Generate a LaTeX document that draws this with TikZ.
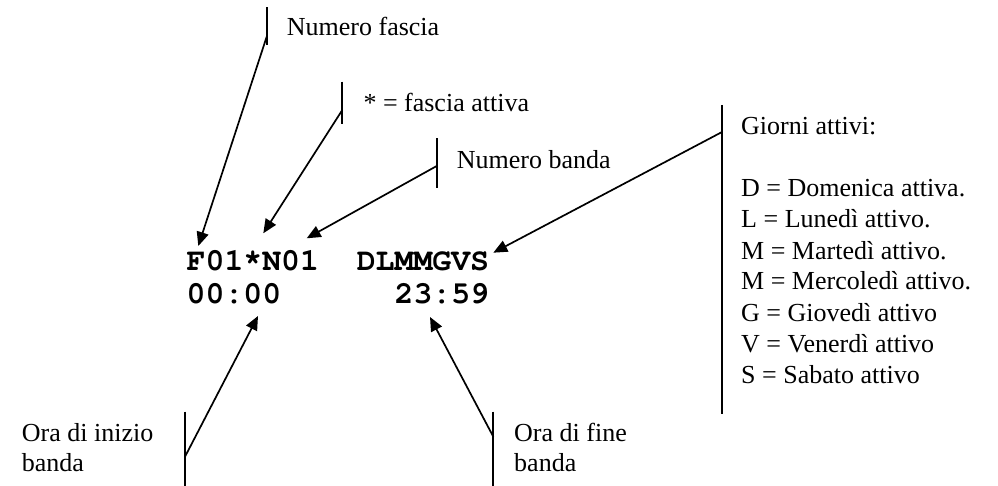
\documentclass[tikz,border=0pt]{standalone}
\usepackage{fontspec}
\setmainfont{Liberation Serif}
\newfontfamily\codefont{TeX Gyre Cursor}
\usetikzlibrary{arrows.meta}
\begin{document}
\begin{tikzpicture}[x=1pt,y=-1pt,
  lbl/.style={anchor=base west, inner sep=0pt, font=\fontsize{26}{31}\selectfont},
  code/.style={anchor=base west, inner sep=0pt, font=\codefont\bfseries\fontsize{31.5}{35}\selectfont},
  bar/.style={line width=1.7pt},
  ptr/.style={line width=1.7pt, -{Triangle[length=14pt,width=12pt]}}]
\useasboundingbox (0,0) rectangle (998,486);

% code text
\node[code] (c1) at (186.5,270) {F01*N01};
\node[code] (c2) at (356.6,270) {DLMMGVS};
\node[code] (c3) at (186.5,303) {00:00};
\node[code] (c4) at (394.4,303) {23:59};

% labels
\node[lbl] (nf) at (286.7,36) {Numero fascia};
\node[lbl] (fa) at (363.3,111.7) {* = fascia attiva};
\node[lbl] (nb) at (456.7,168.3) {Numero banda};
\node[lbl] (g0) at (741,135) {Giorni attivi:};
\node[lbl] (g1) at (741,197) {D = Domenica attiva.};
\node[lbl] (g2) at (741,228) {L = Lunedì attivo.};
\node[lbl] (g3) at (741,259) {M = Martedì attivo.};
\node[lbl] (g4) at (741,290) {M = Mercoledì attivo.};
\node[lbl] (g5) at (741,321) {G = Giovedì attivo};
\node[lbl] (g6) at (741,352) {V = Venerdì attivo};
\node[lbl] (g7) at (741,383) {S = Sabato attivo};
\node[lbl] (oi1) at (21.7,441.7) {Ora di inizio};
\node[lbl] (oi2) at (21.7,471.7) {banda};
\node[lbl] (of1) at (514,441.7) {Ora di fine};
\node[lbl] (of2) at (514,471.7) {banda};

% callout bars
\coordinate (t1) at (266.7,7.3);  \coordinate (b1) at (266.7,45);  \coordinate (j1) at (266.7,36.7);
\coordinate (t2) at (342.3,81.7); \coordinate (b2) at (342.3,124); \coordinate (j2) at (342.3,110);
\coordinate (t3) at (436.7,138.3); \coordinate (b3) at (436.7,188); \coordinate (j3) at (436.7,166);
\coordinate (t4) at (722,105);    \coordinate (b4) at (722,414);   \coordinate (j4) at (722,132);
\coordinate (t5) at (185,411.7);  \coordinate (b5) at (185,486);   \coordinate (j5) at (185,456.7);
\coordinate (t6) at (493.3,411.7); \coordinate (b6) at (493.3,486); \coordinate (j6) at (493.3,436.7);

% arrow tips
\coordinate (p1) at (198.3,246);
\coordinate (p2) at (263.3,233.3);
\coordinate (p3) at (306.7,238.3);
\coordinate (p4) at (493.3,252.7);
\coordinate (p5) at (258,316);
\coordinate (p6) at (430,317);

\foreach \i in {1,...,6} {
  \draw[bar] (t\i) -- (b\i);
  \draw[ptr] (j\i) -- (p\i);
}
\end{tikzpicture}
\end{document}
